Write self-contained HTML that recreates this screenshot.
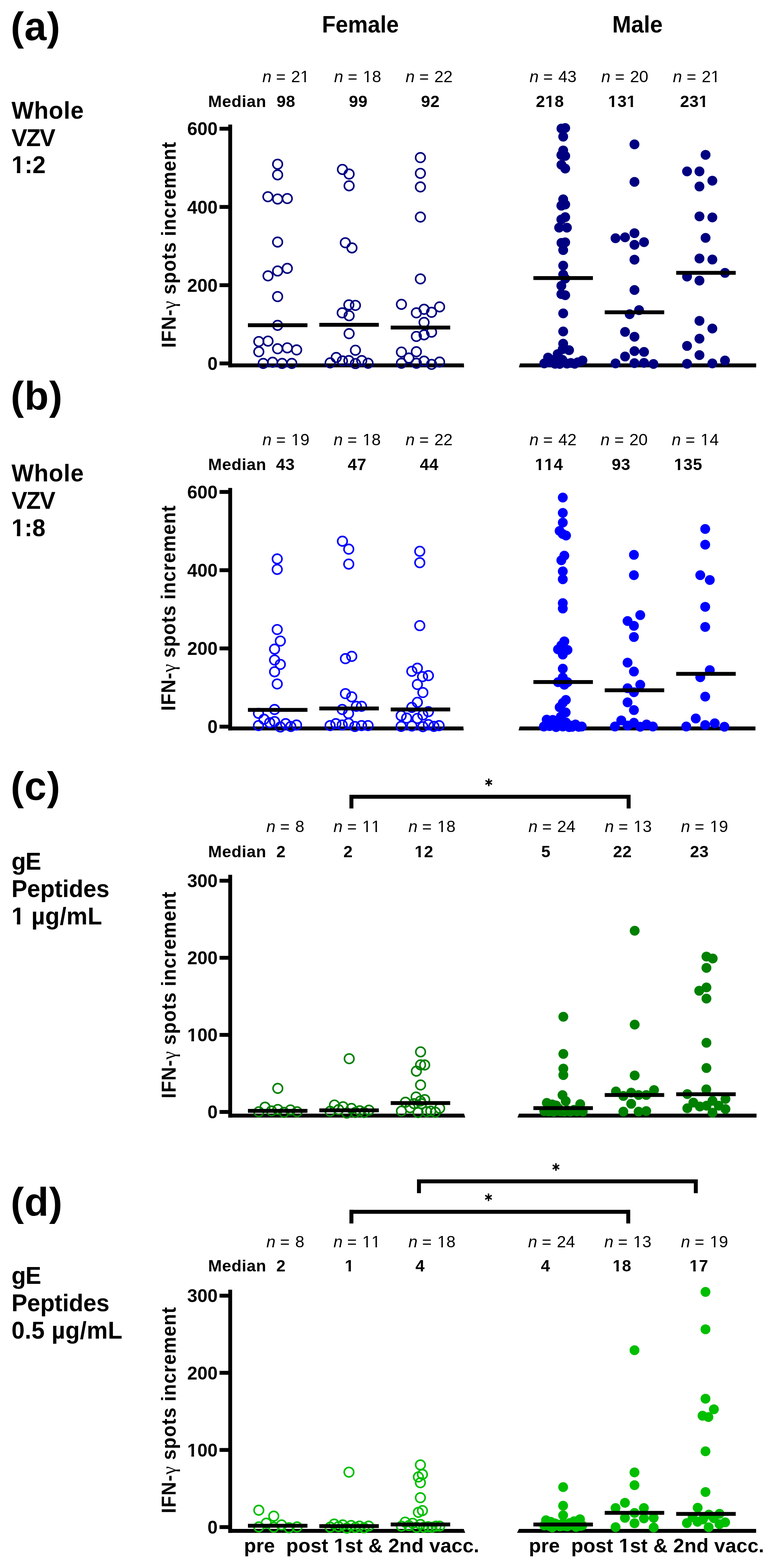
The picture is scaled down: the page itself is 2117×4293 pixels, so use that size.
<!DOCTYPE html>
<html><head><meta charset="utf-8"><title>Figure</title>
<style>html,body{margin:0;padding:0;background:#fff}svg{display:block}text{font-family:"Liberation Sans", Arial, sans-serif;fill:#000;font-kerning:none;font-feature-settings:'kern' 0}</style>
</head><body>
<svg width="2117" height="4293" viewBox="0 0 2117 4293">
<rect width="2117" height="4293" fill="#fff"/>
<text transform="translate(29.17,110.48)" font-size="109" letter-spacing="1.20"><tspan font-weight="bold">(a)</tspan></text>
<text transform="translate(31.40,325.00) scale(0.965,1)" font-size="67" letter-spacing="0.99"><tspan font-weight="bold">Whole</tspan></text>
<text transform="translate(31.40,399.60) scale(0.965,1)" font-size="67" letter-spacing="-2.67"><tspan font-weight="bold">VZV</tspan></text>
<text transform="translate(31.40,474.20) scale(0.965,1)" font-size="67" letter-spacing="0.06"><tspan font-weight="bold">1:2</tspan></text>
<text transform="translate(718.45,224.80)" font-size="45"><tspan font-style="italic" font-weight="normal">n</tspan><tspan font-weight="normal"> = </tspan><tspan font-weight="normal" dx="2.5">21</tspan></text>
<text transform="translate(915.05,224.80)" font-size="45"><tspan font-style="italic" font-weight="normal">n</tspan><tspan font-weight="normal"> = </tspan><tspan font-weight="normal" dx="2.5">18</tspan></text>
<text transform="translate(1110.75,224.80)" font-size="45"><tspan font-style="italic" font-weight="normal">n</tspan><tspan font-weight="normal"> = </tspan><tspan font-weight="normal" dx="2.5">22</tspan></text>
<text transform="translate(1450.25,224.80)" font-size="45"><tspan font-style="italic" font-weight="normal">n</tspan><tspan font-weight="normal"> = </tspan><tspan font-weight="normal" dx="2.5">43</tspan></text>
<text transform="translate(1646.65,224.80)" font-size="45"><tspan font-style="italic" font-weight="normal">n</tspan><tspan font-weight="normal"> = </tspan><tspan font-weight="normal" dx="2.5">20</tspan></text>
<text transform="translate(1842.85,224.80)" font-size="45"><tspan font-style="italic" font-weight="normal">n</tspan><tspan font-weight="normal"> = </tspan><tspan font-weight="normal" dx="2.5">21</tspan></text>
<text transform="translate(569.99,292.50)" font-size="45" letter-spacing="0.76"><tspan font-weight="bold">Median</tspan></text>
<text transform="translate(757.44,292.50)" font-size="45" letter-spacing="0.76"><tspan font-weight="bold">98</tspan></text>
<text transform="translate(955.44,292.50)" font-size="45" letter-spacing="0.76"><tspan font-weight="bold">99</tspan></text>
<text transform="translate(1153.04,292.50)" font-size="45" letter-spacing="0.76"><tspan font-weight="bold">92</tspan></text>
<text transform="translate(1467.44,292.50)" font-size="45" letter-spacing="0.76"><tspan font-weight="bold">218</tspan></text>
<text transform="translate(1665.17,292.50)" font-size="45" letter-spacing="0.76"><tspan font-weight="bold">131</tspan></text>
<text transform="translate(1862.44,292.50)" font-size="45" letter-spacing="0.76"><tspan font-weight="bold">231</tspan></text>
<rect x="625.2" y="341.0" width="10.5" height="664.8" fill="#000"/>
<rect x="601.2" y="347.1" width="28.8" height="10.6" fill="#000"/>
<text transform="translate(512.63,370.31)" font-size="50"><tspan font-weight="bold">600</tspan></text>
<rect x="601.2" y="561.3" width="28.8" height="10.6" fill="#000"/>
<text transform="translate(512.63,584.51)" font-size="50"><tspan font-weight="bold">400</tspan></text>
<rect x="601.2" y="775.5" width="28.8" height="10.6" fill="#000"/>
<text transform="translate(512.63,798.71)" font-size="50"><tspan font-weight="bold">200</tspan></text>
<rect x="601.2" y="989.7" width="28.8" height="10.6" fill="#000"/>
<text transform="translate(568.24,1012.91)" font-size="50"><tspan font-weight="bold">0</tspan></text>
<polygon points="625.2,995 1270.3,995 1271,1005.8 625.2,1005.8" fill="#000"/>
<polygon points="1421.1,1005.8 1424.2,995 2070.9,995 2070.9,1005.8" fill="#000"/>
<text transform="translate(481,948.7) rotate(-90) scale(0.94,1)" x="-3.68" y="0" font-size="55" font-weight="bold" letter-spacing="1.41">IFN-<tspan font-family="Liberation Serif, serif" font-weight="normal">γ</tspan> spots increment</text>
<circle cx="760.3" cy="449.6" r="13.0" fill="none" stroke="#000080" stroke-width="4.4"/>
<circle cx="760.3" cy="478.7" r="13.0" fill="none" stroke="#000080" stroke-width="4.4"/>
<circle cx="733.7" cy="538.6" r="13.0" fill="none" stroke="#000080" stroke-width="4.4"/>
<circle cx="760.3" cy="544.9" r="13.0" fill="none" stroke="#000080" stroke-width="4.4"/>
<circle cx="786.8" cy="543.6" r="13.0" fill="none" stroke="#000080" stroke-width="4.4"/>
<circle cx="760.3" cy="662.7" r="13.0" fill="none" stroke="#000080" stroke-width="4.4"/>
<circle cx="734.0" cy="755.3" r="13.0" fill="none" stroke="#000080" stroke-width="4.4"/>
<circle cx="760.3" cy="741.9" r="13.0" fill="none" stroke="#000080" stroke-width="4.4"/>
<circle cx="786.8" cy="734.8" r="13.0" fill="none" stroke="#000080" stroke-width="4.4"/>
<circle cx="760.3" cy="812.0" r="13.0" fill="none" stroke="#000080" stroke-width="4.4"/>
<circle cx="760.3" cy="890.7" r="13.0" fill="none" stroke="#000080" stroke-width="4.4"/>
<circle cx="708.8" cy="935.1" r="13.0" fill="none" stroke="#000080" stroke-width="4.4"/>
<circle cx="734.0" cy="933.9" r="13.0" fill="none" stroke="#000080" stroke-width="4.4"/>
<circle cx="708.8" cy="963.1" r="13.0" fill="none" stroke="#000080" stroke-width="4.4"/>
<circle cx="760.3" cy="954.8" r="13.0" fill="none" stroke="#000080" stroke-width="4.4"/>
<circle cx="786.8" cy="952.4" r="13.0" fill="none" stroke="#000080" stroke-width="4.4"/>
<circle cx="812.4" cy="958.0" r="13.0" fill="none" stroke="#000080" stroke-width="4.4"/>
<circle cx="720.9" cy="995" r="13.0" fill="none" stroke="#000080" stroke-width="4.4"/>
<circle cx="746.6" cy="991.8" r="13.0" fill="none" stroke="#000080" stroke-width="4.4"/>
<circle cx="772.6" cy="995" r="13.0" fill="none" stroke="#000080" stroke-width="4.4"/>
<circle cx="799.1" cy="995" r="13.0" fill="none" stroke="#000080" stroke-width="4.4"/>
<circle cx="937.8" cy="463.9" r="13.0" fill="none" stroke="#000080" stroke-width="4.4"/>
<circle cx="956.1" cy="476.5" r="13.0" fill="none" stroke="#000080" stroke-width="4.4"/>
<circle cx="956.1" cy="508.7" r="13.0" fill="none" stroke="#000080" stroke-width="4.4"/>
<circle cx="945.7" cy="664.6" r="13.0" fill="none" stroke="#000080" stroke-width="4.4"/>
<circle cx="963.9" cy="678.7" r="13.0" fill="none" stroke="#000080" stroke-width="4.4"/>
<circle cx="955.4" cy="834.8" r="13.0" fill="none" stroke="#000080" stroke-width="4.4"/>
<circle cx="973.4" cy="836.1" r="13.0" fill="none" stroke="#000080" stroke-width="4.4"/>
<circle cx="937.2" cy="856.5" r="13.0" fill="none" stroke="#000080" stroke-width="4.4"/>
<circle cx="956.1" cy="864.4" r="13.0" fill="none" stroke="#000080" stroke-width="4.4"/>
<circle cx="956.1" cy="913.5" r="13.0" fill="none" stroke="#000080" stroke-width="4.4"/>
<circle cx="973.4" cy="958.9" r="13.0" fill="none" stroke="#000080" stroke-width="4.4"/>
<circle cx="920.8" cy="978.7" r="13.0" fill="none" stroke="#000080" stroke-width="4.4"/>
<circle cx="904.1" cy="993.5" r="13.0" fill="none" stroke="#000080" stroke-width="4.4"/>
<circle cx="937.8" cy="988.2" r="13.0" fill="none" stroke="#000080" stroke-width="4.4"/>
<circle cx="955.4" cy="987.2" r="13.0" fill="none" stroke="#000080" stroke-width="4.4"/>
<circle cx="973.4" cy="995.4" r="13.0" fill="none" stroke="#000080" stroke-width="4.4"/>
<circle cx="990.7" cy="987.2" r="13.0" fill="none" stroke="#000080" stroke-width="4.4"/>
<circle cx="1008" cy="994.5" r="13.0" fill="none" stroke="#000080" stroke-width="4.4"/>
<circle cx="1151.3" cy="431.5" r="13.0" fill="none" stroke="#000080" stroke-width="4.4"/>
<circle cx="1151.3" cy="474.6" r="13.0" fill="none" stroke="#000080" stroke-width="4.4"/>
<circle cx="1151.3" cy="511.8" r="13.0" fill="none" stroke="#000080" stroke-width="4.4"/>
<circle cx="1151.3" cy="594.3" r="13.0" fill="none" stroke="#000080" stroke-width="4.4"/>
<circle cx="1151.3" cy="763.6" r="13.0" fill="none" stroke="#000080" stroke-width="4.4"/>
<circle cx="1099.4" cy="833.2" r="13.0" fill="none" stroke="#000080" stroke-width="4.4"/>
<circle cx="1140.3" cy="856.5" r="13.0" fill="none" stroke="#000080" stroke-width="4.4"/>
<circle cx="1161.4" cy="846.8" r="13.0" fill="none" stroke="#000080" stroke-width="4.4"/>
<circle cx="1181.9" cy="855" r="13.0" fill="none" stroke="#000080" stroke-width="4.4"/>
<circle cx="1203.9" cy="840.2" r="13.0" fill="none" stroke="#000080" stroke-width="4.4"/>
<circle cx="1161.4" cy="882.7" r="13.0" fill="none" stroke="#000080" stroke-width="4.4"/>
<circle cx="1181.9" cy="909.4" r="13.0" fill="none" stroke="#000080" stroke-width="4.4"/>
<circle cx="1161.4" cy="916.7" r="13.0" fill="none" stroke="#000080" stroke-width="4.4"/>
<circle cx="1140.3" cy="921.1" r="13.0" fill="none" stroke="#000080" stroke-width="4.4"/>
<circle cx="1099.4" cy="963.9" r="13.0" fill="none" stroke="#000080" stroke-width="4.4"/>
<circle cx="1140.3" cy="963" r="13.0" fill="none" stroke="#000080" stroke-width="4.4"/>
<circle cx="1119.8" cy="980.3" r="13.0" fill="none" stroke="#000080" stroke-width="4.4"/>
<circle cx="1099.4" cy="994.5" r="13.0" fill="none" stroke="#000080" stroke-width="4.4"/>
<circle cx="1140.3" cy="994.5" r="13.0" fill="none" stroke="#000080" stroke-width="4.4"/>
<circle cx="1161.4" cy="988.8" r="13.0" fill="none" stroke="#000080" stroke-width="4.4"/>
<circle cx="1181.9" cy="997.6" r="13.0" fill="none" stroke="#000080" stroke-width="4.4"/>
<circle cx="1203.9" cy="991.3" r="13.0" fill="none" stroke="#000080" stroke-width="4.4"/>
<circle cx="1537.6" cy="352" r="13.5" fill="#000080"/>
<circle cx="1547.9" cy="350.5" r="13.5" fill="#000080"/>
<circle cx="1542.4" cy="374.1" r="13.5" fill="#000080"/>
<circle cx="1542.4" cy="411.9" r="13.5" fill="#000080"/>
<circle cx="1537.3" cy="424.5" r="13.5" fill="#000080"/>
<circle cx="1547.9" cy="426.9" r="13.5" fill="#000080"/>
<circle cx="1537.6" cy="451.3" r="13.5" fill="#000080"/>
<circle cx="1547.9" cy="461.5" r="13.5" fill="#000080"/>
<circle cx="1542.4" cy="545.7" r="13.5" fill="#000080"/>
<circle cx="1537.3" cy="563.1" r="13.5" fill="#000080"/>
<circle cx="1547.9" cy="559.9" r="13.5" fill="#000080"/>
<circle cx="1547.9" cy="594.6" r="13.5" fill="#000080"/>
<circle cx="1537.3" cy="600.9" r="13.5" fill="#000080"/>
<circle cx="1531.3" cy="623.3" r="13.5" fill="#000080"/>
<circle cx="1552.6" cy="623.3" r="13.5" fill="#000080"/>
<circle cx="1537.6" cy="665" r="13.5" fill="#000080"/>
<circle cx="1547.9" cy="663.5" r="13.5" fill="#000080"/>
<circle cx="1542.4" cy="684.7" r="13.5" fill="#000080"/>
<circle cx="1542.4" cy="727.2" r="13.5" fill="#000080"/>
<circle cx="1542.4" cy="751.7" r="13.5" fill="#000080"/>
<circle cx="1547.9" cy="762.7" r="13.5" fill="#000080"/>
<circle cx="1537.3" cy="782.4" r="13.5" fill="#000080"/>
<circle cx="1537.3" cy="805.2" r="13.5" fill="#000080"/>
<circle cx="1547.9" cy="808.3" r="13.5" fill="#000080"/>
<circle cx="1542.4" cy="858" r="13.5" fill="#000080"/>
<circle cx="1542.4" cy="907.5" r="13.5" fill="#000080"/>
<circle cx="1542.4" cy="941.1" r="13.5" fill="#000080"/>
<circle cx="1558.5" cy="958.7" r="13.5" fill="#000080"/>
<circle cx="1527.3" cy="969.4" r="13.5" fill="#000080"/>
<circle cx="1500.9" cy="978.9" r="13.5" fill="#000080"/>
<circle cx="1490.5" cy="995" r="13.5" fill="#000080"/>
<circle cx="1505" cy="992" r="13.5" fill="#000080"/>
<circle cx="1515" cy="986" r="13.5" fill="#000080"/>
<circle cx="1520" cy="996" r="13.5" fill="#000080"/>
<circle cx="1532.6" cy="996.4" r="13.5" fill="#000080"/>
<circle cx="1540" cy="985" r="13.5" fill="#000080"/>
<circle cx="1552.7" cy="995.5" r="13.5" fill="#000080"/>
<circle cx="1563.3" cy="993.8" r="13.5" fill="#000080"/>
<circle cx="1574" cy="996" r="13.5" fill="#000080"/>
<circle cx="1582.2" cy="992" r="13.5" fill="#000080"/>
<circle cx="1595.2" cy="987" r="13.5" fill="#000080"/>
<circle cx="1541" cy="956" r="13.5" fill="#000080"/>
<circle cx="1512" cy="986" r="13.5" fill="#000080"/>
<circle cx="1737.6" cy="395.3" r="13.5" fill="#000080"/>
<circle cx="1737.6" cy="498" r="13.5" fill="#000080"/>
<circle cx="1685.7" cy="652.3" r="13.5" fill="#000080"/>
<circle cx="1711.8" cy="649.8" r="13.5" fill="#000080"/>
<circle cx="1737.6" cy="638.4" r="13.5" fill="#000080"/>
<circle cx="1763.8" cy="663" r="13.5" fill="#000080"/>
<circle cx="1737.6" cy="670.2" r="13.5" fill="#000080"/>
<circle cx="1737.6" cy="710.9" r="13.5" fill="#000080"/>
<circle cx="1737.6" cy="794" r="13.5" fill="#000080"/>
<circle cx="1750.2" cy="849.1" r="13.5" fill="#000080"/>
<circle cx="1724.4" cy="860.2" r="13.5" fill="#000080"/>
<circle cx="1711.8" cy="908.7" r="13.5" fill="#000080"/>
<circle cx="1737.6" cy="921.9" r="13.5" fill="#000080"/>
<circle cx="1737.6" cy="961.3" r="13.5" fill="#000080"/>
<circle cx="1763.8" cy="963.5" r="13.5" fill="#000080"/>
<circle cx="1711.8" cy="976.1" r="13.5" fill="#000080"/>
<circle cx="1685.7" cy="995" r="13.5" fill="#000080"/>
<circle cx="1737.6" cy="994.3" r="13.5" fill="#000080"/>
<circle cx="1763.8" cy="993.4" r="13.5" fill="#000080"/>
<circle cx="1789.6" cy="996.5" r="13.5" fill="#000080"/>
<circle cx="1932.3" cy="423.9" r="13.5" fill="#000080"/>
<circle cx="1881.6" cy="469.3" r="13.5" fill="#000080"/>
<circle cx="1915.6" cy="469.3" r="13.5" fill="#000080"/>
<circle cx="1950.9" cy="494.8" r="13.5" fill="#000080"/>
<circle cx="1915.6" cy="510.6" r="13.5" fill="#000080"/>
<circle cx="1915.6" cy="592.4" r="13.5" fill="#000080"/>
<circle cx="1950.9" cy="595.3" r="13.5" fill="#000080"/>
<circle cx="1932.3" cy="651.3" r="13.5" fill="#000080"/>
<circle cx="1915.6" cy="707.7" r="13.5" fill="#000080"/>
<circle cx="1950.9" cy="710.6" r="13.5" fill="#000080"/>
<circle cx="1985.5" cy="747.1" r="13.5" fill="#000080"/>
<circle cx="1881.6" cy="757.2" r="13.5" fill="#000080"/>
<circle cx="1915.6" cy="768.2" r="13.5" fill="#000080"/>
<circle cx="1915.6" cy="878.4" r="13.5" fill="#000080"/>
<circle cx="1950.9" cy="899.5" r="13.5" fill="#000080"/>
<circle cx="1915.6" cy="927.2" r="13.5" fill="#000080"/>
<circle cx="1881.6" cy="947.1" r="13.5" fill="#000080"/>
<circle cx="1915.6" cy="972.3" r="13.5" fill="#000080"/>
<circle cx="1881.6" cy="995.9" r="13.5" fill="#000080"/>
<circle cx="1950.9" cy="995" r="13.5" fill="#000080"/>
<circle cx="1985.5" cy="987.1" r="13.5" fill="#000080"/>
<rect x="679.0" y="885.1" width="163.0" height="10.6" fill="#000"/>
<rect x="874.5" y="884.0" width="163.0" height="10.6" fill="#000"/>
<rect x="1070.0" y="891.5" width="163.0" height="10.6" fill="#000"/>
<rect x="1460.8" y="756.0" width="163.0" height="10.6" fill="#000"/>
<rect x="1656.1" y="849.7" width="163.0" height="10.6" fill="#000"/>
<rect x="1851.9" y="741.7" width="163.0" height="10.6" fill="#000"/>
<text transform="translate(29.17,1121.48)" font-size="109" letter-spacing="1.20"><tspan font-weight="bold">(b)</tspan></text>
<text transform="translate(31.40,1318.10) scale(0.965,1)" font-size="67" letter-spacing="0.99"><tspan font-weight="bold">Whole</tspan></text>
<text transform="translate(31.40,1393.10) scale(0.965,1)" font-size="67" letter-spacing="-2.67"><tspan font-weight="bold">VZV</tspan></text>
<text transform="translate(31.40,1467.80) scale(0.965,1)" font-size="67" letter-spacing="-0.25"><tspan font-weight="bold">1:8</tspan></text>
<text transform="translate(718.75,1218.60)" font-size="45"><tspan font-style="italic" font-weight="normal">n</tspan><tspan font-weight="normal"> = </tspan><tspan font-weight="normal" dx="2.5">19</tspan></text>
<text transform="translate(913.85,1218.60)" font-size="45"><tspan font-style="italic" font-weight="normal">n</tspan><tspan font-weight="normal"> = </tspan><tspan font-weight="normal" dx="2.5">18</tspan></text>
<text transform="translate(1110.75,1218.60)" font-size="45"><tspan font-style="italic" font-weight="normal">n</tspan><tspan font-weight="normal"> = </tspan><tspan font-weight="normal" dx="2.5">22</tspan></text>
<text transform="translate(1450.05,1218.60)" font-size="45"><tspan font-style="italic" font-weight="normal">n</tspan><tspan font-weight="normal"> = </tspan><tspan font-weight="normal" dx="2.5">42</tspan></text>
<text transform="translate(1644.85,1218.60)" font-size="45"><tspan font-style="italic" font-weight="normal">n</tspan><tspan font-weight="normal"> = </tspan><tspan font-weight="normal" dx="2.5">20</tspan></text>
<text transform="translate(1839.65,1218.60)" font-size="45"><tspan font-style="italic" font-weight="normal">n</tspan><tspan font-weight="normal"> = </tspan><tspan font-weight="normal" dx="2.5">14</tspan></text>
<text transform="translate(569.99,1286.90)" font-size="45" letter-spacing="0.76"><tspan font-weight="bold">Median</tspan></text>
<text transform="translate(755.92,1286.90)" font-size="45" letter-spacing="0.76"><tspan font-weight="bold">43</tspan></text>
<text transform="translate(952.32,1286.90)" font-size="45" letter-spacing="0.76"><tspan font-weight="bold">47</tspan></text>
<text transform="translate(1149.72,1286.90)" font-size="45" letter-spacing="0.76"><tspan font-weight="bold">44</tspan></text>
<text transform="translate(1464.97,1286.90)" font-size="45" letter-spacing="0.76"><tspan font-weight="bold">114</tspan></text>
<text transform="translate(1675.14,1286.90)" font-size="45" letter-spacing="0.76"><tspan font-weight="bold">93</tspan></text>
<text transform="translate(1846.07,1286.90)" font-size="45" letter-spacing="0.76"><tspan font-weight="bold">135</tspan></text>
<rect x="625.2" y="1335.9" width="10.5" height="663.9" fill="#000"/>
<rect x="601.2" y="1341.6" width="28.8" height="10.6" fill="#000"/>
<text transform="translate(512.63,1364.81)" font-size="50"><tspan font-weight="bold">600</tspan></text>
<rect x="601.2" y="1555.8" width="28.8" height="10.6" fill="#000"/>
<text transform="translate(512.63,1579.01)" font-size="50"><tspan font-weight="bold">400</tspan></text>
<rect x="601.2" y="1770.0" width="28.8" height="10.6" fill="#000"/>
<text transform="translate(512.63,1793.21)" font-size="50"><tspan font-weight="bold">200</tspan></text>
<rect x="601.2" y="1984.2" width="28.8" height="10.6" fill="#000"/>
<text transform="translate(568.24,2007.41)" font-size="50"><tspan font-weight="bold">0</tspan></text>
<polygon points="625.2,1989 1268.9,1989 1269.9,1999.8 625.2,1999.8" fill="#000"/>
<polygon points="1420.1,1999.8 1423.2,1989 2068.9,1989 2068.9,1999.8" fill="#000"/>
<text transform="translate(480,1942.8) rotate(-90) scale(0.94,1)" x="-3.68" y="0" font-size="55" font-weight="bold" letter-spacing="1.35">IFN-<tspan font-family="Liberation Serif, serif" font-weight="normal">γ</tspan> spots increment</text>
<circle cx="759.2" cy="1530.2" r="13.0" fill="none" stroke="#0000FF" stroke-width="4.4"/>
<circle cx="759.2" cy="1558.9" r="13.0" fill="none" stroke="#0000FF" stroke-width="4.4"/>
<circle cx="759.2" cy="1723.6" r="13.0" fill="none" stroke="#0000FF" stroke-width="4.4"/>
<circle cx="767.7" cy="1755.1" r="13.0" fill="none" stroke="#0000FF" stroke-width="4.4"/>
<circle cx="752" cy="1777.2" r="13.0" fill="none" stroke="#0000FF" stroke-width="4.4"/>
<circle cx="752" cy="1807.1" r="13.0" fill="none" stroke="#0000FF" stroke-width="4.4"/>
<circle cx="767.7" cy="1819.1" r="13.0" fill="none" stroke="#0000FF" stroke-width="4.4"/>
<circle cx="752" cy="1839.2" r="13.0" fill="none" stroke="#0000FF" stroke-width="4.4"/>
<circle cx="759.2" cy="1872.6" r="13.0" fill="none" stroke="#0000FF" stroke-width="4.4"/>
<circle cx="752" cy="1942.5" r="13.0" fill="none" stroke="#0000FF" stroke-width="4.4"/>
<circle cx="707.9" cy="1952.9" r="13.0" fill="none" stroke="#0000FF" stroke-width="4.4"/>
<circle cx="723" cy="1969.3" r="13.0" fill="none" stroke="#0000FF" stroke-width="4.4"/>
<circle cx="738.7" cy="1978.7" r="13.0" fill="none" stroke="#0000FF" stroke-width="4.4"/>
<circle cx="752" cy="1975.6" r="13.0" fill="none" stroke="#0000FF" stroke-width="4.4"/>
<circle cx="707.9" cy="1986.6" r="13.0" fill="none" stroke="#0000FF" stroke-width="4.4"/>
<circle cx="767.7" cy="1990.4" r="13.0" fill="none" stroke="#0000FF" stroke-width="4.4"/>
<circle cx="782.2" cy="1981.3" r="13.0" fill="none" stroke="#0000FF" stroke-width="4.4"/>
<circle cx="796.4" cy="1989.1" r="13.0" fill="none" stroke="#0000FF" stroke-width="4.4"/>
<circle cx="812.1" cy="1985" r="13.0" fill="none" stroke="#0000FF" stroke-width="4.4"/>
<circle cx="937.8" cy="1481.7" r="13.0" fill="none" stroke="#0000FF" stroke-width="4.4"/>
<circle cx="955.1" cy="1503.5" r="13.0" fill="none" stroke="#0000FF" stroke-width="4.4"/>
<circle cx="955.1" cy="1544.4" r="13.0" fill="none" stroke="#0000FF" stroke-width="4.4"/>
<circle cx="946" cy="1803.3" r="13.0" fill="none" stroke="#0000FF" stroke-width="4.4"/>
<circle cx="963.3" cy="1797" r="13.0" fill="none" stroke="#0000FF" stroke-width="4.4"/>
<circle cx="946" cy="1899.1" r="13.0" fill="none" stroke="#0000FF" stroke-width="4.4"/>
<circle cx="963.3" cy="1907.9" r="13.0" fill="none" stroke="#0000FF" stroke-width="4.4"/>
<circle cx="975.9" cy="1933.7" r="13.0" fill="none" stroke="#0000FF" stroke-width="4.4"/>
<circle cx="990.1" cy="1933.7" r="13.0" fill="none" stroke="#0000FF" stroke-width="4.4"/>
<circle cx="937.2" cy="1942.5" r="13.0" fill="none" stroke="#0000FF" stroke-width="4.4"/>
<circle cx="954.5" cy="1953.5" r="13.0" fill="none" stroke="#0000FF" stroke-width="4.4"/>
<circle cx="904.1" cy="1986.6" r="13.0" fill="none" stroke="#0000FF" stroke-width="4.4"/>
<circle cx="919.8" cy="1981.3" r="13.0" fill="none" stroke="#0000FF" stroke-width="4.4"/>
<circle cx="937.2" cy="1985" r="13.0" fill="none" stroke="#0000FF" stroke-width="4.4"/>
<circle cx="954.5" cy="1980.3" r="13.0" fill="none" stroke="#0000FF" stroke-width="4.4"/>
<circle cx="971.8" cy="1989.1" r="13.0" fill="none" stroke="#0000FF" stroke-width="4.4"/>
<circle cx="990.1" cy="1986.6" r="13.0" fill="none" stroke="#0000FF" stroke-width="4.4"/>
<circle cx="1008" cy="1986.6" r="13.0" fill="none" stroke="#0000FF" stroke-width="4.4"/>
<circle cx="1149.6" cy="1509.4" r="13.0" fill="none" stroke="#0000FF" stroke-width="4.4"/>
<circle cx="1149.6" cy="1540.6" r="13.0" fill="none" stroke="#0000FF" stroke-width="4.4"/>
<circle cx="1149.6" cy="1712.9" r="13.0" fill="none" stroke="#0000FF" stroke-width="4.4"/>
<circle cx="1127.9" cy="1837.9" r="13.0" fill="none" stroke="#0000FF" stroke-width="4.4"/>
<circle cx="1143" cy="1829.5" r="13.0" fill="none" stroke="#0000FF" stroke-width="4.4"/>
<circle cx="1157.2" cy="1852.6" r="13.0" fill="none" stroke="#0000FF" stroke-width="4.4"/>
<circle cx="1173.2" cy="1849.8" r="13.0" fill="none" stroke="#0000FF" stroke-width="4.4"/>
<circle cx="1143" cy="1874" r="13.0" fill="none" stroke="#0000FF" stroke-width="4.4"/>
<circle cx="1158.1" cy="1896.1" r="13.0" fill="none" stroke="#0000FF" stroke-width="4.4"/>
<circle cx="1143" cy="1922.9" r="13.0" fill="none" stroke="#0000FF" stroke-width="4.4"/>
<circle cx="1127.9" cy="1936.7" r="13.0" fill="none" stroke="#0000FF" stroke-width="4.4"/>
<circle cx="1173.2" cy="1948.4" r="13.0" fill="none" stroke="#0000FF" stroke-width="4.4"/>
<circle cx="1098.6" cy="1959.4" r="13.0" fill="none" stroke="#0000FF" stroke-width="4.4"/>
<circle cx="1113.7" cy="1966" r="13.0" fill="none" stroke="#0000FF" stroke-width="4.4"/>
<circle cx="1143" cy="1966.9" r="13.0" fill="none" stroke="#0000FF" stroke-width="4.4"/>
<circle cx="1158.1" cy="1957.5" r="13.0" fill="none" stroke="#0000FF" stroke-width="4.4"/>
<circle cx="1098.6" cy="1988.7" r="13.0" fill="none" stroke="#0000FF" stroke-width="4.4"/>
<circle cx="1127.9" cy="1987.7" r="13.0" fill="none" stroke="#0000FF" stroke-width="4.4"/>
<circle cx="1158.1" cy="1989.6" r="13.0" fill="none" stroke="#0000FF" stroke-width="4.4"/>
<circle cx="1173.2" cy="1983.9" r="13.0" fill="none" stroke="#0000FF" stroke-width="4.4"/>
<circle cx="1188.3" cy="1988.7" r="13.0" fill="none" stroke="#0000FF" stroke-width="4.4"/>
<circle cx="1202.5" cy="1986.8" r="13.0" fill="none" stroke="#0000FF" stroke-width="4.4"/>
<circle cx="1541.3" cy="1362.3" r="13.5" fill="#0000FF"/>
<circle cx="1541.3" cy="1404.3" r="13.5" fill="#0000FF"/>
<circle cx="1541.3" cy="1430.8" r="13.5" fill="#0000FF"/>
<circle cx="1532.6" cy="1453.6" r="13.5" fill="#0000FF"/>
<circle cx="1541" cy="1462" r="13.5" fill="#0000FF"/>
<circle cx="1550.2" cy="1466.2" r="13.5" fill="#0000FF"/>
<circle cx="1545.5" cy="1521.3" r="13.5" fill="#0000FF"/>
<circle cx="1537.3" cy="1533.9" r="13.5" fill="#0000FF"/>
<circle cx="1541.3" cy="1564.2" r="13.5" fill="#0000FF"/>
<circle cx="1541.3" cy="1585.9" r="13.5" fill="#0000FF"/>
<circle cx="1541.3" cy="1651.2" r="13.5" fill="#0000FF"/>
<circle cx="1541.3" cy="1666.1" r="13.5" fill="#0000FF"/>
<circle cx="1545.5" cy="1755.9" r="13.5" fill="#0000FF"/>
<circle cx="1537.3" cy="1766.9" r="13.5" fill="#0000FF"/>
<circle cx="1528.2" cy="1778" r="13.5" fill="#0000FF"/>
<circle cx="1554.2" cy="1779.5" r="13.5" fill="#0000FF"/>
<circle cx="1541.3" cy="1792.1" r="13.5" fill="#0000FF"/>
<circle cx="1541.3" cy="1830.7" r="13.5" fill="#0000FF"/>
<circle cx="1541.3" cy="1855.1" r="13.5" fill="#0000FF"/>
<circle cx="1528.2" cy="1867.7" r="13.5" fill="#0000FF"/>
<circle cx="1554.2" cy="1867.7" r="13.5" fill="#0000FF"/>
<circle cx="1545.5" cy="1874.8" r="13.5" fill="#0000FF"/>
<circle cx="1549.7" cy="1916.2" r="13.5" fill="#0000FF"/>
<circle cx="1541.3" cy="1924.6" r="13.5" fill="#0000FF"/>
<circle cx="1532.7" cy="1936.4" r="13.5" fill="#0000FF"/>
<circle cx="1549.2" cy="1950.6" r="13.5" fill="#0000FF"/>
<circle cx="1535.8" cy="1962.4" r="13.5" fill="#0000FF"/>
<circle cx="1497.2" cy="1970.2" r="13.5" fill="#0000FF"/>
<circle cx="1513.8" cy="1971" r="13.5" fill="#0000FF"/>
<circle cx="1489.4" cy="1989.1" r="13.5" fill="#0000FF"/>
<circle cx="1523.2" cy="1990.7" r="13.5" fill="#0000FF"/>
<circle cx="1541.3" cy="1989.1" r="13.5" fill="#0000FF"/>
<circle cx="1558.7" cy="1990.7" r="13.5" fill="#0000FF"/>
<circle cx="1576" cy="1983.6" r="13.5" fill="#0000FF"/>
<circle cx="1593.3" cy="1989.1" r="13.5" fill="#0000FF"/>
<circle cx="1505" cy="1988" r="13.5" fill="#0000FF"/>
<circle cx="1530" cy="1978" r="13.5" fill="#0000FF"/>
<circle cx="1567" cy="1990" r="13.5" fill="#0000FF"/>
<circle cx="1585" cy="1990" r="13.5" fill="#0000FF"/>
<circle cx="1550" cy="1978" r="13.5" fill="#0000FF"/>
<circle cx="1560" cy="1986" r="13.5" fill="#0000FF"/>
<circle cx="1512" cy="1985" r="13.5" fill="#0000FF"/>
<circle cx="1736.1" cy="1519.1" r="13.5" fill="#0000FF"/>
<circle cx="1736.1" cy="1574.8" r="13.5" fill="#0000FF"/>
<circle cx="1753.4" cy="1684.1" r="13.5" fill="#0000FF"/>
<circle cx="1718.7" cy="1700.2" r="13.5" fill="#0000FF"/>
<circle cx="1736.1" cy="1713.4" r="13.5" fill="#0000FF"/>
<circle cx="1736.1" cy="1744.1" r="13.5" fill="#0000FF"/>
<circle cx="1718.7" cy="1814.3" r="13.5" fill="#0000FF"/>
<circle cx="1736.1" cy="1838.6" r="13.5" fill="#0000FF"/>
<circle cx="1753.4" cy="1874.8" r="13.5" fill="#0000FF"/>
<circle cx="1718.7" cy="1884.3" r="13.5" fill="#0000FF"/>
<circle cx="1736.1" cy="1895.3" r="13.5" fill="#0000FF"/>
<circle cx="1718.7" cy="1923" r="13.5" fill="#0000FF"/>
<circle cx="1736.1" cy="1944.1" r="13.5" fill="#0000FF"/>
<circle cx="1701.4" cy="1972.4" r="13.5" fill="#0000FF"/>
<circle cx="1684.1" cy="1989.1" r="13.5" fill="#0000FF"/>
<circle cx="1718.7" cy="1986.6" r="13.5" fill="#0000FF"/>
<circle cx="1736.1" cy="1978.7" r="13.5" fill="#0000FF"/>
<circle cx="1753.4" cy="1989.8" r="13.5" fill="#0000FF"/>
<circle cx="1770.7" cy="1983.5" r="13.5" fill="#0000FF"/>
<circle cx="1788" cy="1989.1" r="13.5" fill="#0000FF"/>
<circle cx="1931.3" cy="1448.2" r="13.5" fill="#0000FF"/>
<circle cx="1931.3" cy="1491.3" r="13.5" fill="#0000FF"/>
<circle cx="1917.8" cy="1574.8" r="13.5" fill="#0000FF"/>
<circle cx="1943.9" cy="1588" r="13.5" fill="#0000FF"/>
<circle cx="1931.3" cy="1661.4" r="13.5" fill="#0000FF"/>
<circle cx="1931.3" cy="1716.5" r="13.5" fill="#0000FF"/>
<circle cx="1943.9" cy="1834.8" r="13.5" fill="#0000FF"/>
<circle cx="1917.8" cy="1854.3" r="13.5" fill="#0000FF"/>
<circle cx="1931.3" cy="1907.2" r="13.5" fill="#0000FF"/>
<circle cx="1905.5" cy="1967.1" r="13.5" fill="#0000FF"/>
<circle cx="1879.4" cy="1989.1" r="13.5" fill="#0000FF"/>
<circle cx="1931.3" cy="1985" r="13.5" fill="#0000FF"/>
<circle cx="1957.5" cy="1980.3" r="13.5" fill="#0000FF"/>
<circle cx="1983.9" cy="1989.8" r="13.5" fill="#0000FF"/>
<rect x="679.0" y="1938.3" width="163.0" height="10.6" fill="#000"/>
<rect x="874.5" y="1934.4" width="163.0" height="10.6" fill="#000"/>
<rect x="1070.0" y="1937.1" width="163.0" height="10.6" fill="#000"/>
<rect x="1460.8" y="1862.0" width="163.0" height="10.6" fill="#000"/>
<rect x="1656.1" y="1884.6" width="163.0" height="10.6" fill="#000"/>
<rect x="1851.9" y="1839.6" width="163.0" height="10.6" fill="#000"/>
<text transform="translate(29.17,2190.48)" font-size="109" letter-spacing="1.20"><tspan font-weight="bold">(c)</tspan></text>
<text transform="translate(31.40,2380.80) scale(0.965,1)" font-size="67" letter-spacing="-1.18"><tspan font-weight="bold">gE</tspan></text>
<text transform="translate(31.40,2455.70) scale(0.965,1)" font-size="67" letter-spacing="-0.15"><tspan font-weight="bold">Peptides</tspan></text>
<text transform="translate(31.40,2530.70) scale(0.965,1)" font-size="67" letter-spacing="0.42"><tspan font-weight="bold">1 µg/mL</tspan></text>
<text transform="translate(729.55,2278.40)" font-size="45"><tspan font-style="italic" font-weight="normal">n</tspan><tspan font-weight="normal"> = </tspan><tspan font-weight="normal" dx="2.5">8</tspan></text>
<text transform="translate(913.25,2278.40)" font-size="45"><tspan font-style="italic" font-weight="normal">n</tspan><tspan font-weight="normal"> = </tspan><tspan font-weight="normal" dx="2.5">11</tspan></text>
<text transform="translate(1118.55,2278.40)" font-size="45"><tspan font-style="italic" font-weight="normal">n</tspan><tspan font-weight="normal"> = </tspan><tspan font-weight="normal" dx="2.5">18</tspan></text>
<text transform="translate(1447.25,2278.40)" font-size="45"><tspan font-style="italic" font-weight="normal">n</tspan><tspan font-weight="normal"> = </tspan><tspan font-weight="normal" dx="2.5">24</tspan></text>
<text transform="translate(1656.15,2278.40)" font-size="45"><tspan font-style="italic" font-weight="normal">n</tspan><tspan font-weight="normal"> = </tspan><tspan font-weight="normal" dx="2.5">13</tspan></text>
<text transform="translate(1865.05,2278.40)" font-size="45"><tspan font-style="italic" font-weight="normal">n</tspan><tspan font-weight="normal"> = </tspan><tspan font-weight="normal" dx="2.5">19</tspan></text>
<text transform="translate(569.99,2346.50)" font-size="45" letter-spacing="0.76"><tspan font-weight="bold">Median</tspan></text>
<text transform="translate(756.84,2346.50)" font-size="45" letter-spacing="0.76"><tspan font-weight="bold">2</tspan></text>
<text transform="translate(940.44,2346.50)" font-size="45" letter-spacing="0.76"><tspan font-weight="bold">2</tspan></text>
<text transform="translate(1135.57,2346.50)" font-size="45" letter-spacing="0.76"><tspan font-weight="bold">12</tspan></text>
<text transform="translate(1482.22,2346.50)" font-size="45" letter-spacing="0.76"><tspan font-weight="bold">5</tspan></text>
<text transform="translate(1679.04,2346.50)" font-size="45" letter-spacing="0.76"><tspan font-weight="bold">22</tspan></text>
<text transform="translate(1889.64,2346.50)" font-size="45" letter-spacing="0.76"><tspan font-weight="bold">23</tspan></text>
<rect x="625.2" y="2395.0" width="10.5" height="664.8" fill="#000"/>
<rect x="601.2" y="2406.0" width="28.8" height="10.6" fill="#000"/>
<text transform="translate(512.63,2429.18)" font-size="50"><tspan font-weight="bold">300</tspan></text>
<rect x="601.2" y="2617.0" width="28.8" height="10.6" fill="#000"/>
<text transform="translate(512.63,2640.21)" font-size="50"><tspan font-weight="bold">200</tspan></text>
<rect x="601.2" y="2828.1" width="28.8" height="10.6" fill="#000"/>
<text transform="translate(512.63,2851.31)" font-size="50"><tspan font-weight="bold">100</tspan></text>
<rect x="601.2" y="3039.1" width="28.8" height="10.6" fill="#000"/>
<text transform="translate(568.24,3062.31)" font-size="50"><tspan font-weight="bold">0</tspan></text>
<polygon points="625.2,3049 1270.9,3049 1274.1,3059.8 625.2,3059.8" fill="#000"/>
<polygon points="1417.1,3059.8 1421.3,3049 2071.9,3049 2071.9,3059.8" fill="#000"/>
<text transform="translate(481,3003.7) rotate(-90) scale(0.94,1)" x="-3.68" y="0" font-size="55" font-weight="bold" letter-spacing="1.51">IFN-<tspan font-family="Liberation Serif, serif" font-weight="normal">γ</tspan> spots increment</text>
<circle cx="760.8" cy="2979.8" r="13.0" fill="none" stroke="#008000" stroke-width="4.4"/>
<circle cx="725.8" cy="3031.3" r="13.0" fill="none" stroke="#008000" stroke-width="4.4"/>
<circle cx="708.8" cy="3043.9" r="13.0" fill="none" stroke="#008000" stroke-width="4.4"/>
<circle cx="743.5" cy="3041.6" r="13.0" fill="none" stroke="#008000" stroke-width="4.4"/>
<circle cx="760.8" cy="3037.6" r="13.0" fill="none" stroke="#008000" stroke-width="4.4"/>
<circle cx="777.8" cy="3045.5" r="13.0" fill="none" stroke="#008000" stroke-width="4.4"/>
<circle cx="795.4" cy="3038.9" r="13.0" fill="none" stroke="#008000" stroke-width="4.4"/>
<circle cx="813.5" cy="3043.9" r="13.0" fill="none" stroke="#008000" stroke-width="4.4"/>
<circle cx="956.4" cy="2898.6" r="13.0" fill="none" stroke="#008000" stroke-width="4.4"/>
<circle cx="915.9" cy="3025.4" r="13.0" fill="none" stroke="#008000" stroke-width="4.4"/>
<circle cx="939.5" cy="3030.1" r="13.0" fill="none" stroke="#008000" stroke-width="4.4"/>
<circle cx="962.4" cy="3034.8" r="13.0" fill="none" stroke="#008000" stroke-width="4.4"/>
<circle cx="904.1" cy="3042.7" r="13.0" fill="none" stroke="#008000" stroke-width="4.4"/>
<circle cx="927.4" cy="3038" r="13.0" fill="none" stroke="#008000" stroke-width="4.4"/>
<circle cx="949.8" cy="3047.4" r="13.0" fill="none" stroke="#008000" stroke-width="4.4"/>
<circle cx="973.4" cy="3045.8" r="13.0" fill="none" stroke="#008000" stroke-width="4.4"/>
<circle cx="985.2" cy="3041.1" r="13.0" fill="none" stroke="#008000" stroke-width="4.4"/>
<circle cx="997" cy="3045.8" r="13.0" fill="none" stroke="#008000" stroke-width="4.4"/>
<circle cx="1010.4" cy="3039.5" r="13.0" fill="none" stroke="#008000" stroke-width="4.4"/>
<circle cx="1151.8" cy="2879.9" r="13.0" fill="none" stroke="#008000" stroke-width="4.4"/>
<circle cx="1151.8" cy="2915.4" r="13.0" fill="none" stroke="#008000" stroke-width="4.4"/>
<circle cx="1163.1" cy="2915.8" r="13.0" fill="none" stroke="#008000" stroke-width="4.4"/>
<circle cx="1140.3" cy="2932.7" r="13.0" fill="none" stroke="#008000" stroke-width="4.4"/>
<circle cx="1151.8" cy="2970.5" r="13.0" fill="none" stroke="#008000" stroke-width="4.4"/>
<circle cx="1139.5" cy="3003.5" r="13.0" fill="none" stroke="#008000" stroke-width="4.4"/>
<circle cx="1163.1" cy="3010.6" r="13.0" fill="none" stroke="#008000" stroke-width="4.4"/>
<circle cx="1110.4" cy="3017.7" r="13.0" fill="none" stroke="#008000" stroke-width="4.4"/>
<circle cx="1151.3" cy="3014.6" r="13.0" fill="none" stroke="#008000" stroke-width="4.4"/>
<circle cx="1123" cy="3032.7" r="13.0" fill="none" stroke="#008000" stroke-width="4.4"/>
<circle cx="1204.1" cy="3034.3" r="13.0" fill="none" stroke="#008000" stroke-width="4.4"/>
<circle cx="1099.4" cy="3042.1" r="13.0" fill="none" stroke="#008000" stroke-width="4.4"/>
<circle cx="1145" cy="3046.1" r="13.0" fill="none" stroke="#008000" stroke-width="4.4"/>
<circle cx="1168.7" cy="3043.7" r="13.0" fill="none" stroke="#008000" stroke-width="4.4"/>
<circle cx="1179.7" cy="3042.1" r="13.0" fill="none" stroke="#008000" stroke-width="4.4"/>
<circle cx="1192.3" cy="3045.3" r="13.0" fill="none" stroke="#008000" stroke-width="4.4"/>
<circle cx="1154.5" cy="3021.7" r="13.0" fill="none" stroke="#008000" stroke-width="4.4"/>
<circle cx="1134" cy="3021.7" r="13.0" fill="none" stroke="#008000" stroke-width="4.4"/>
<circle cx="1542.8" cy="2783.8" r="13.5" fill="#008000"/>
<circle cx="1542.8" cy="2885.5" r="13.5" fill="#008000"/>
<circle cx="1542.8" cy="2925.7" r="13.5" fill="#008000"/>
<circle cx="1542.8" cy="2943.4" r="13.5" fill="#008000"/>
<circle cx="1540.5" cy="2998.3" r="13.5" fill="#008000"/>
<circle cx="1549.3" cy="3014.6" r="13.5" fill="#008000"/>
<circle cx="1497.6" cy="3019.5" r="13.5" fill="#008000"/>
<circle cx="1512.4" cy="3023.8" r="13.5" fill="#008000"/>
<circle cx="1523" cy="3026.6" r="13.5" fill="#008000"/>
<circle cx="1589" cy="3023.1" r="13.5" fill="#008000"/>
<circle cx="1490.5" cy="3042.2" r="13.5" fill="#008000"/>
<circle cx="1516.7" cy="3044.3" r="13.5" fill="#008000"/>
<circle cx="1535.1" cy="3042.9" r="13.5" fill="#008000"/>
<circle cx="1545" cy="3043.6" r="13.5" fill="#008000"/>
<circle cx="1562" cy="3043.6" r="13.5" fill="#008000"/>
<circle cx="1596" cy="3043.6" r="13.5" fill="#008000"/>
<circle cx="1505" cy="3035" r="13.5" fill="#008000"/>
<circle cx="1530" cy="3035" r="13.5" fill="#008000"/>
<circle cx="1553" cy="3040" r="13.5" fill="#008000"/>
<circle cx="1572" cy="3038.5" r="13.5" fill="#008000"/>
<circle cx="1580" cy="3043" r="13.5" fill="#008000"/>
<circle cx="1503" cy="3043" r="13.5" fill="#008000"/>
<circle cx="1525" cy="3040" r="13.5" fill="#008000"/>
<circle cx="1585" cy="3036" r="13.5" fill="#008000"/>
<circle cx="1738.2" cy="2548.2" r="13.5" fill="#008000"/>
<circle cx="1738.2" cy="2805.2" r="13.5" fill="#008000"/>
<circle cx="1738.2" cy="2944.4" r="13.5" fill="#008000"/>
<circle cx="1686.8" cy="2988.3" r="13.5" fill="#008000"/>
<circle cx="1707.2" cy="3000.6" r="13.5" fill="#008000"/>
<circle cx="1728.6" cy="2991.5" r="13.5" fill="#008000"/>
<circle cx="1748.9" cy="2998" r="13.5" fill="#008000"/>
<circle cx="1769.8" cy="2998" r="13.5" fill="#008000"/>
<circle cx="1791.2" cy="2984.6" r="13.5" fill="#008000"/>
<circle cx="1728.6" cy="3022.1" r="13.5" fill="#008000"/>
<circle cx="1707.2" cy="3043.5" r="13.5" fill="#008000"/>
<circle cx="1748.9" cy="3043.5" r="13.5" fill="#008000"/>
<circle cx="1769.8" cy="3041.9" r="13.5" fill="#008000"/>
<circle cx="1934.7" cy="2618.9" r="13.5" fill="#008000"/>
<circle cx="1951.9" cy="2624.2" r="13.5" fill="#008000"/>
<circle cx="1934.7" cy="2649.9" r="13.5" fill="#008000"/>
<circle cx="1934.7" cy="2703.5" r="13.5" fill="#008000"/>
<circle cx="1914.9" cy="2712.6" r="13.5" fill="#008000"/>
<circle cx="1934.7" cy="2734" r="13.5" fill="#008000"/>
<circle cx="1934.7" cy="2855" r="13.5" fill="#008000"/>
<circle cx="1934.7" cy="2924.1" r="13.5" fill="#008000"/>
<circle cx="1934.3" cy="2982.6" r="13.5" fill="#008000"/>
<circle cx="1882.3" cy="2995.4" r="13.5" fill="#008000"/>
<circle cx="1898.9" cy="3018.7" r="13.5" fill="#008000"/>
<circle cx="1916.6" cy="3029.4" r="13.5" fill="#008000"/>
<circle cx="1935" cy="3027.2" r="13.5" fill="#008000"/>
<circle cx="1951.3" cy="3013.8" r="13.5" fill="#008000"/>
<circle cx="1986.8" cy="3008.8" r="13.5" fill="#008000"/>
<circle cx="1882.3" cy="3034.3" r="13.5" fill="#008000"/>
<circle cx="1968.3" cy="3027.2" r="13.5" fill="#008000"/>
<circle cx="1986.8" cy="3036.5" r="13.5" fill="#008000"/>
<circle cx="1951.3" cy="3046.4" r="13.5" fill="#008000"/>
<rect x="679.0" y="3036.1" width="163.0" height="10.6" fill="#000"/>
<rect x="874.5" y="3034.7" width="163.0" height="10.6" fill="#000"/>
<rect x="1070.0" y="3014.7" width="163.0" height="10.6" fill="#000"/>
<rect x="1460.8" y="3028.6" width="163.0" height="10.6" fill="#000"/>
<rect x="1656.1" y="2992.7" width="163.0" height="10.6" fill="#000"/>
<rect x="1851.9" y="2990.6" width="163.0" height="10.6" fill="#000"/>
<text transform="translate(29.17,3327.98)" font-size="109" letter-spacing="1.20"><tspan font-weight="bold">(d)</tspan></text>
<text transform="translate(31.40,3515.10) scale(0.965,1)" font-size="67" letter-spacing="-1.18"><tspan font-weight="bold">gE</tspan></text>
<text transform="translate(31.40,3589.60) scale(0.965,1)" font-size="67" letter-spacing="-0.15"><tspan font-weight="bold">Peptides</tspan></text>
<text transform="translate(31.40,3665.00) scale(0.965,1)" font-size="67" letter-spacing="0.52"><tspan font-weight="bold">0.5 µg/mL</tspan></text>
<text transform="translate(729.55,3414.50)" font-size="45"><tspan font-style="italic" font-weight="normal">n</tspan><tspan font-weight="normal"> = </tspan><tspan font-weight="normal" dx="2.5">8</tspan></text>
<text transform="translate(913.25,3414.50)" font-size="45"><tspan font-style="italic" font-weight="normal">n</tspan><tspan font-weight="normal"> = </tspan><tspan font-weight="normal" dx="2.5">11</tspan></text>
<text transform="translate(1118.55,3414.50)" font-size="45"><tspan font-style="italic" font-weight="normal">n</tspan><tspan font-weight="normal"> = </tspan><tspan font-weight="normal" dx="2.5">18</tspan></text>
<text transform="translate(1446.25,3414.50)" font-size="45"><tspan font-style="italic" font-weight="normal">n</tspan><tspan font-weight="normal"> = </tspan><tspan font-weight="normal" dx="2.5">24</tspan></text>
<text transform="translate(1655.05,3414.50)" font-size="45"><tspan font-style="italic" font-weight="normal">n</tspan><tspan font-weight="normal"> = </tspan><tspan font-weight="normal" dx="2.5">13</tspan></text>
<text transform="translate(1865.05,3414.50)" font-size="45"><tspan font-style="italic" font-weight="normal">n</tspan><tspan font-weight="normal"> = </tspan><tspan font-weight="normal" dx="2.5">19</tspan></text>
<text transform="translate(569.99,3480.50)" font-size="45" letter-spacing="0.76"><tspan font-weight="bold">Median</tspan></text>
<text transform="translate(756.84,3480.50)" font-size="45" letter-spacing="0.76"><tspan font-weight="bold">2</tspan></text>
<text transform="translate(944.17,3480.50)" font-size="45" letter-spacing="0.76"><tspan font-weight="bold">1</tspan></text>
<text transform="translate(1137.72,3480.50)" font-size="45" letter-spacing="0.76"><tspan font-weight="bold">4</tspan></text>
<text transform="translate(1481.22,3480.50)" font-size="45" letter-spacing="0.76"><tspan font-weight="bold">4</tspan></text>
<text transform="translate(1677.77,3480.50)" font-size="45" letter-spacing="0.76"><tspan font-weight="bold">18</tspan></text>
<text transform="translate(1888.37,3480.50)" font-size="45" letter-spacing="0.76"><tspan font-weight="bold">17</tspan></text>
<rect x="625.2" y="3531.0" width="10.5" height="665.8" fill="#000"/>
<rect x="601.2" y="3542.1" width="28.8" height="10.6" fill="#000"/>
<text transform="translate(512.63,3565.28)" font-size="50"><tspan font-weight="bold">300</tspan></text>
<rect x="601.2" y="3753.3" width="28.8" height="10.6" fill="#000"/>
<text transform="translate(512.63,3776.51)" font-size="50"><tspan font-weight="bold">200</tspan></text>
<rect x="601.2" y="3964.5" width="28.8" height="10.6" fill="#000"/>
<text transform="translate(512.63,3987.71)" font-size="50"><tspan font-weight="bold">100</tspan></text>
<rect x="601.2" y="4175.7" width="28.8" height="10.6" fill="#000"/>
<text transform="translate(568.24,4198.91)" font-size="50"><tspan font-weight="bold">0</tspan></text>
<polygon points="625.2,4186 1269.9,4186 1274.1,4196.8 625.2,4196.8" fill="#000"/>
<polygon points="1416.1,4196.8 1421.3,4186 2070.8,4186 2070.8,4196.8" fill="#000"/>
<text transform="translate(481,4139.8) rotate(-90) scale(0.94,1)" x="-3.68" y="0" font-size="55" font-weight="bold" letter-spacing="1.47">IFN-<tspan font-family="Liberation Serif, serif" font-weight="normal">γ</tspan> spots increment</text>
<circle cx="708.8" cy="4134.8" r="13.0" fill="none" stroke="#00BE00" stroke-width="4.4"/>
<circle cx="749.8" cy="4151" r="13.0" fill="none" stroke="#00BE00" stroke-width="4.4"/>
<circle cx="729.3" cy="4170.2" r="13.0" fill="none" stroke="#00BE00" stroke-width="4.4"/>
<circle cx="708.8" cy="4180.5" r="13.0" fill="none" stroke="#00BE00" stroke-width="4.4"/>
<circle cx="749.8" cy="4181.3" r="13.0" fill="none" stroke="#00BE00" stroke-width="4.4"/>
<circle cx="771" cy="4175" r="13.0" fill="none" stroke="#00BE00" stroke-width="4.4"/>
<circle cx="791.5" cy="4182.8" r="13.0" fill="none" stroke="#00BE00" stroke-width="4.4"/>
<circle cx="813.5" cy="4180.5" r="13.0" fill="none" stroke="#00BE00" stroke-width="4.4"/>
<circle cx="955.7" cy="4030.6" r="13.0" fill="none" stroke="#00BE00" stroke-width="4.4"/>
<circle cx="915.1" cy="4172.7" r="13.0" fill="none" stroke="#00BE00" stroke-width="4.4"/>
<circle cx="938.7" cy="4175" r="13.0" fill="none" stroke="#00BE00" stroke-width="4.4"/>
<circle cx="961.6" cy="4176.6" r="13.0" fill="none" stroke="#00BE00" stroke-width="4.4"/>
<circle cx="984.4" cy="4178.2" r="13.0" fill="none" stroke="#00BE00" stroke-width="4.4"/>
<circle cx="1009.6" cy="4178.2" r="13.0" fill="none" stroke="#00BE00" stroke-width="4.4"/>
<circle cx="904.1" cy="4181.3" r="13.0" fill="none" stroke="#00BE00" stroke-width="4.4"/>
<circle cx="926.9" cy="4179.8" r="13.0" fill="none" stroke="#00BE00" stroke-width="4.4"/>
<circle cx="949.8" cy="4183.7" r="13.0" fill="none" stroke="#00BE00" stroke-width="4.4"/>
<circle cx="973.4" cy="4182.1" r="13.0" fill="none" stroke="#00BE00" stroke-width="4.4"/>
<circle cx="997" cy="4182.9" r="13.0" fill="none" stroke="#00BE00" stroke-width="4.4"/>
<circle cx="1151.3" cy="4010.7" r="13.0" fill="none" stroke="#00BE00" stroke-width="4.4"/>
<circle cx="1156.9" cy="4036.7" r="13.0" fill="none" stroke="#00BE00" stroke-width="4.4"/>
<circle cx="1145.8" cy="4043.8" r="13.0" fill="none" stroke="#00BE00" stroke-width="4.4"/>
<circle cx="1151.3" cy="4059.5" r="13.0" fill="none" stroke="#00BE00" stroke-width="4.4"/>
<circle cx="1151.3" cy="4100.5" r="13.0" fill="none" stroke="#00BE00" stroke-width="4.4"/>
<circle cx="1156.9" cy="4135.9" r="13.0" fill="none" stroke="#00BE00" stroke-width="4.4"/>
<circle cx="1145.8" cy="4140.6" r="13.0" fill="none" stroke="#00BE00" stroke-width="4.4"/>
<circle cx="1109.6" cy="4167.4" r="13.0" fill="none" stroke="#00BE00" stroke-width="4.4"/>
<circle cx="1130.1" cy="4170.6" r="13.0" fill="none" stroke="#00BE00" stroke-width="4.4"/>
<circle cx="1099.4" cy="4178.4" r="13.0" fill="none" stroke="#00BE00" stroke-width="4.4"/>
<circle cx="1119.8" cy="4176.9" r="13.0" fill="none" stroke="#00BE00" stroke-width="4.4"/>
<circle cx="1141.1" cy="4181.6" r="13.0" fill="none" stroke="#00BE00" stroke-width="4.4"/>
<circle cx="1151.3" cy="4173.7" r="13.0" fill="none" stroke="#00BE00" stroke-width="4.4"/>
<circle cx="1160.8" cy="4181.6" r="13.0" fill="none" stroke="#00BE00" stroke-width="4.4"/>
<circle cx="1172.6" cy="4180" r="13.0" fill="none" stroke="#00BE00" stroke-width="4.4"/>
<circle cx="1182.8" cy="4181.6" r="13.0" fill="none" stroke="#00BE00" stroke-width="4.4"/>
<circle cx="1193.9" cy="4178.4" r="13.0" fill="none" stroke="#00BE00" stroke-width="4.4"/>
<circle cx="1204.1" cy="4178.4" r="13.0" fill="none" stroke="#00BE00" stroke-width="4.4"/>
<circle cx="1542.3" cy="4071.5" r="13.5" fill="#00BE00"/>
<circle cx="1542.2" cy="4122.5" r="13.5" fill="#00BE00"/>
<circle cx="1542.2" cy="4148.7" r="13.5" fill="#00BE00"/>
<circle cx="1495.4" cy="4162.2" r="13.5" fill="#00BE00"/>
<circle cx="1508.2" cy="4166.5" r="13.5" fill="#00BE00"/>
<circle cx="1519.5" cy="4170.7" r="13.5" fill="#00BE00"/>
<circle cx="1588.3" cy="4159.4" r="13.5" fill="#00BE00"/>
<circle cx="1572" cy="4165" r="13.5" fill="#00BE00"/>
<circle cx="1490.5" cy="4176.4" r="13.5" fill="#00BE00"/>
<circle cx="1512.4" cy="4182" r="13.5" fill="#00BE00"/>
<circle cx="1533.7" cy="4179.2" r="13.5" fill="#00BE00"/>
<circle cx="1553.5" cy="4179.2" r="13.5" fill="#00BE00"/>
<circle cx="1577.6" cy="4180.6" r="13.5" fill="#00BE00"/>
<circle cx="1594.6" cy="4176.4" r="13.5" fill="#00BE00"/>
<circle cx="1542.2" cy="4170.7" r="13.5" fill="#00BE00"/>
<circle cx="1500" cy="4172" r="13.5" fill="#00BE00"/>
<circle cx="1525" cy="4175" r="13.5" fill="#00BE00"/>
<circle cx="1545" cy="4178" r="13.5" fill="#00BE00"/>
<circle cx="1565" cy="4175" r="13.5" fill="#00BE00"/>
<circle cx="1585" cy="4172" r="13.5" fill="#00BE00"/>
<circle cx="1528" cy="4174" r="13.5" fill="#00BE00"/>
<circle cx="1560" cy="4170" r="13.5" fill="#00BE00"/>
<circle cx="1505" cy="4178" r="13.5" fill="#00BE00"/>
<circle cx="1590" cy="4178" r="13.5" fill="#00BE00"/>
<circle cx="1737.7" cy="3696.7" r="13.5" fill="#00BE00"/>
<circle cx="1737.7" cy="4031.3" r="13.5" fill="#00BE00"/>
<circle cx="1737.7" cy="4066.2" r="13.5" fill="#00BE00"/>
<circle cx="1711.5" cy="4114.4" r="13.5" fill="#00BE00"/>
<circle cx="1685.8" cy="4128.8" r="13.5" fill="#00BE00"/>
<circle cx="1763.4" cy="4128.8" r="13.5" fill="#00BE00"/>
<circle cx="1737.7" cy="4142.2" r="13.5" fill="#00BE00"/>
<circle cx="1711.5" cy="4155.6" r="13.5" fill="#00BE00"/>
<circle cx="1763.4" cy="4157.2" r="13.5" fill="#00BE00"/>
<circle cx="1790.2" cy="4155.6" r="13.5" fill="#00BE00"/>
<circle cx="1737.7" cy="4170.6" r="13.5" fill="#00BE00"/>
<circle cx="1685.8" cy="4181.3" r="13.5" fill="#00BE00"/>
<circle cx="1790.2" cy="4182.3" r="13.5" fill="#00BE00"/>
<circle cx="1932.1" cy="3537.1" r="13.5" fill="#00BE00"/>
<circle cx="1932.1" cy="3639.4" r="13.5" fill="#00BE00"/>
<circle cx="1932.1" cy="3829.5" r="13.5" fill="#00BE00"/>
<circle cx="1955.1" cy="3858.4" r="13.5" fill="#00BE00"/>
<circle cx="1924" cy="3876.1" r="13.5" fill="#00BE00"/>
<circle cx="1940.1" cy="3879.8" r="13.5" fill="#00BE00"/>
<circle cx="1932.1" cy="3973.5" r="13.5" fill="#00BE00"/>
<circle cx="1932.1" cy="4084.9" r="13.5" fill="#00BE00"/>
<circle cx="1910.7" cy="4128" r="13.5" fill="#00BE00"/>
<circle cx="1941.4" cy="4146.7" r="13.5" fill="#00BE00"/>
<circle cx="1970.5" cy="4144.6" r="13.5" fill="#00BE00"/>
<circle cx="1896.8" cy="4153.8" r="13.5" fill="#00BE00"/>
<circle cx="1881.2" cy="4170.1" r="13.5" fill="#00BE00"/>
<circle cx="1910.2" cy="4166.5" r="13.5" fill="#00BE00"/>
<circle cx="1986" cy="4168" r="13.5" fill="#00BE00"/>
<circle cx="1970.5" cy="4172.9" r="13.5" fill="#00BE00"/>
<circle cx="1940.7" cy="4181.4" r="13.5" fill="#00BE00"/>
<circle cx="1954.9" cy="4156.6" r="13.5" fill="#00BE00"/>
<circle cx="1925" cy="4160" r="13.5" fill="#00BE00"/>
<rect x="679.0" y="4172.0" width="163.0" height="10.6" fill="#000"/>
<rect x="874.5" y="4173.0" width="163.0" height="10.6" fill="#000"/>
<rect x="1070.0" y="4168.5" width="163.0" height="10.6" fill="#000"/>
<rect x="1460.8" y="4168.6" width="163.0" height="10.6" fill="#000"/>
<rect x="1656.1" y="4136.7" width="163.0" height="10.6" fill="#000"/>
<rect x="1851.9" y="4139.6" width="163.0" height="10.6" fill="#000"/>
<text transform="translate(881.82,88.90) scale(0.9537877682090206,1)" font-size="64"><tspan font-weight="bold">Female</tspan></text>
<text transform="translate(1676.64,88.90) scale(0.9711919005982513,1)" font-size="64"><tspan font-weight="bold">Male</tspan></text>
<rect x="957.0" y="2176.0" width="770.0" height="10.8" fill="#000"/>
<rect x="957.0" y="2176.0" width="10.8" height="37.5" fill="#000"/>
<rect x="1716.2" y="2176.0" width="10.8" height="37.5" fill="#000"/>
<text transform="translate(1328.54,2163.92) scale(0.92,1)" font-size="41.8" font-weight="bold" stroke="#000" stroke-width="0.8" style="font-family:'DejaVu Sans', sans-serif">*</text>
<rect x="1142.0" y="3229.0" width="769.0" height="10.8" fill="#000"/>
<rect x="1142.0" y="3229.0" width="10.8" height="37.8" fill="#000"/>
<rect x="1900.2" y="3229.0" width="10.8" height="37.8" fill="#000"/>
<text transform="translate(1512.44,3216.92) scale(0.92,1)" font-size="41.8" font-weight="bold" stroke="#000" stroke-width="0.8" style="font-family:'DejaVu Sans', sans-serif">*</text>
<rect x="957.0" y="3312.4" width="769.0" height="10.8" fill="#000"/>
<rect x="957.0" y="3312.4" width="10.8" height="37.3" fill="#000"/>
<rect x="1715.2" y="3312.4" width="10.8" height="37.3" fill="#000"/>
<text transform="translate(1327.84,3300.32) scale(0.92,1)" font-size="41.8" font-weight="bold" stroke="#000" stroke-width="0.8" style="font-family:'DejaVu Sans', sans-serif">*</text>
<text transform="translate(668.14,4249.50)" font-size="54" letter-spacing="0.33"><tspan font-weight="bold">pre  post 1st &amp; 2nd vacc.</tspan></text>
<text transform="translate(1448.44,4249.50)" font-size="54" letter-spacing="0.33"><tspan font-weight="bold">pre  post 1st &amp; 2nd vacc.</tspan></text>
<rect x="33.97" y="465.76" width="12.37" height="9.64" fill="#fff"/>
<rect x="55.51" y="465.76" width="11.55" height="9.64" fill="#fff"/>
<rect x="824.22" y="219.84" width="9.24" height="6.16" fill="#fff"/>
<rect x="837.73" y="219.84" width="8.89" height="6.16" fill="#fff"/>
<rect x="995.79" y="219.84" width="9.24" height="6.16" fill="#fff"/>
<rect x="1009.31" y="219.84" width="8.89" height="6.16" fill="#fff"/>
<rect x="1948.62" y="219.84" width="9.24" height="6.16" fill="#fff"/>
<rect x="1962.13" y="219.84" width="8.89" height="6.16" fill="#fff"/>
<rect x="1494.56" y="286.31" width="9.02" height="7.39" fill="#fff"/>
<rect x="1510.05" y="286.31" width="8.45" height="7.39" fill="#fff"/>
<rect x="1666.50" y="286.31" width="9.02" height="7.39" fill="#fff"/>
<rect x="1681.99" y="286.31" width="8.45" height="7.39" fill="#fff"/>
<rect x="1718.07" y="286.31" width="9.02" height="7.39" fill="#fff"/>
<rect x="1733.56" y="286.31" width="8.45" height="7.39" fill="#fff"/>
<rect x="1915.34" y="286.31" width="9.02" height="7.39" fill="#fff"/>
<rect x="1930.83" y="286.31" width="8.45" height="7.39" fill="#fff"/>
<rect x="33.97" y="1459.36" width="12.37" height="9.64" fill="#fff"/>
<rect x="55.51" y="1459.36" width="11.55" height="9.64" fill="#fff"/>
<rect x="799.49" y="1213.64" width="9.24" height="6.16" fill="#fff"/>
<rect x="813.01" y="1213.64" width="8.89" height="6.16" fill="#fff"/>
<rect x="994.59" y="1213.64" width="9.24" height="6.16" fill="#fff"/>
<rect x="1008.11" y="1213.64" width="8.89" height="6.16" fill="#fff"/>
<rect x="1920.39" y="1213.64" width="9.24" height="6.16" fill="#fff"/>
<rect x="1933.91" y="1213.64" width="8.89" height="6.16" fill="#fff"/>
<rect x="1466.30" y="1280.71" width="9.02" height="7.39" fill="#fff"/>
<rect x="1481.79" y="1280.71" width="8.45" height="7.39" fill="#fff"/>
<rect x="1492.08" y="1280.71" width="9.02" height="7.39" fill="#fff"/>
<rect x="1507.58" y="1280.71" width="8.45" height="7.39" fill="#fff"/>
<rect x="1847.40" y="1280.71" width="9.02" height="7.39" fill="#fff"/>
<rect x="1862.89" y="1280.71" width="8.45" height="7.39" fill="#fff"/>
<rect x="33.97" y="2522.26" width="12.37" height="9.64" fill="#fff"/>
<rect x="55.51" y="2522.26" width="11.55" height="9.64" fill="#fff"/>
<rect x="993.99" y="2273.44" width="9.24" height="6.16" fill="#fff"/>
<rect x="1007.51" y="2273.44" width="8.89" height="6.16" fill="#fff"/>
<rect x="1019.02" y="2273.44" width="9.24" height="6.16" fill="#fff"/>
<rect x="1032.53" y="2273.44" width="8.89" height="6.16" fill="#fff"/>
<rect x="1199.29" y="2273.44" width="9.24" height="6.16" fill="#fff"/>
<rect x="1212.81" y="2273.44" width="8.89" height="6.16" fill="#fff"/>
<rect x="1736.89" y="2273.44" width="9.24" height="6.16" fill="#fff"/>
<rect x="1750.41" y="2273.44" width="8.89" height="6.16" fill="#fff"/>
<rect x="1945.79" y="2273.44" width="9.24" height="6.16" fill="#fff"/>
<rect x="1959.31" y="2273.44" width="8.89" height="6.16" fill="#fff"/>
<rect x="1136.90" y="2340.31" width="9.02" height="7.39" fill="#fff"/>
<rect x="1152.39" y="2340.31" width="8.45" height="7.39" fill="#fff"/>
<rect x="514.28" y="2844.61" width="9.87" height="7.90" fill="#fff"/>
<rect x="531.31" y="2844.61" width="9.24" height="7.90" fill="#fff"/>
<rect x="993.99" y="3409.54" width="9.24" height="6.16" fill="#fff"/>
<rect x="1007.51" y="3409.54" width="8.89" height="6.16" fill="#fff"/>
<rect x="1019.02" y="3409.54" width="9.24" height="6.16" fill="#fff"/>
<rect x="1032.53" y="3409.54" width="8.89" height="6.16" fill="#fff"/>
<rect x="1199.29" y="3409.54" width="9.24" height="6.16" fill="#fff"/>
<rect x="1212.81" y="3409.54" width="8.89" height="6.16" fill="#fff"/>
<rect x="1735.79" y="3409.54" width="9.24" height="6.16" fill="#fff"/>
<rect x="1749.31" y="3409.54" width="8.89" height="6.16" fill="#fff"/>
<rect x="1945.79" y="3409.54" width="9.24" height="6.16" fill="#fff"/>
<rect x="1959.31" y="3409.54" width="8.89" height="6.16" fill="#fff"/>
<rect x="945.50" y="3474.31" width="9.02" height="7.39" fill="#fff"/>
<rect x="960.99" y="3474.31" width="8.45" height="7.39" fill="#fff"/>
<rect x="1679.10" y="3474.31" width="9.02" height="7.39" fill="#fff"/>
<rect x="1694.59" y="3474.31" width="8.45" height="7.39" fill="#fff"/>
<rect x="1889.70" y="3474.31" width="9.02" height="7.39" fill="#fff"/>
<rect x="1905.19" y="3474.31" width="8.45" height="7.39" fill="#fff"/>
<rect x="514.28" y="3981.01" width="9.87" height="7.90" fill="#fff"/>
<rect x="531.31" y="3981.01" width="9.24" height="7.90" fill="#fff"/>
<rect x="916.39" y="4242.39" width="10.55" height="8.31" fill="#fff"/>
<rect x="934.65" y="4242.39" width="9.87" height="8.31" fill="#fff"/>
<rect x="1696.69" y="4242.39" width="10.55" height="8.31" fill="#fff"/>
<rect x="1714.95" y="4242.39" width="9.87" height="8.31" fill="#fff"/>
</svg>
</body></html>
